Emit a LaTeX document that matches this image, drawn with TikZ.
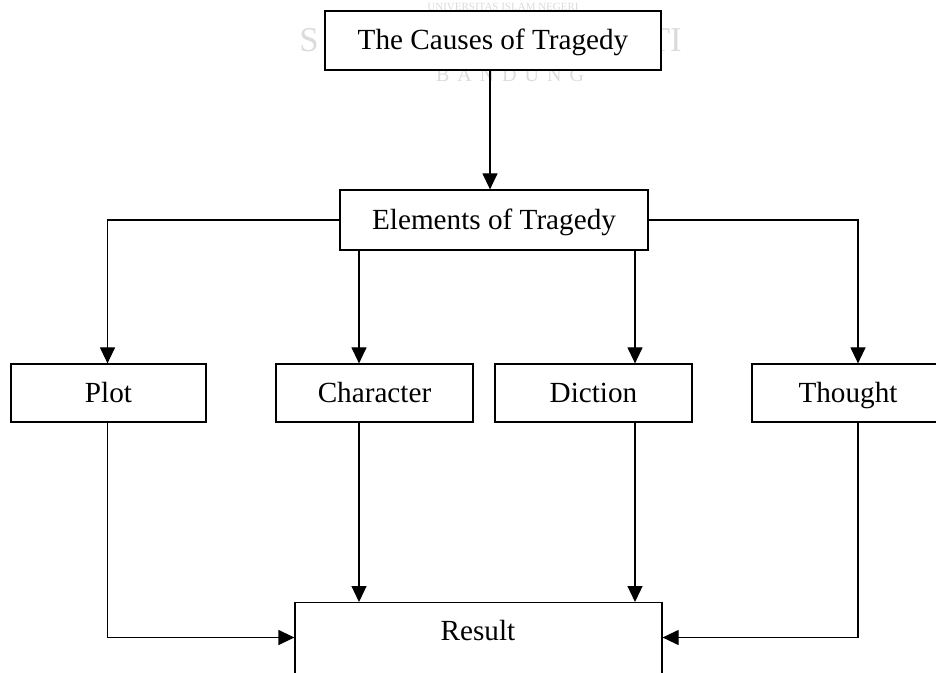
\documentclass[tikz,border=0pt]{standalone}
\usepackage{fontspec}
\setmainfont{Liberation Serif}
\usetikzlibrary{arrows.meta}
\tikzset{
  box/.style={draw, line width=0.6pt, rectangle, inner sep=0pt, text height=10pt, text depth=0.6pt, font=\fontsize{14.6}{16}\selectfont},
  arr/.style={line width=0.6pt, -{Triangle[length=8pt,width=7.5pt]}},
  wm/.style={text=black!14, inner sep=0pt}
}
\begin{document}
\begin{tikzpicture}[x=0.5pt,y=-0.5pt]
\useasboundingbox (0,0) rectangle (936,673);
\clip (0,0) rectangle (936,673);
% faint watermark (only its visible parts)
\node[wm, font=\fontsize{5.5}{6}\selectfont] (wm1) at (503,7) {UNIVERSITAS ISLAM NEGERI};
\node[wm, font=\fontsize{17.4}{18}\selectfont, anchor=west] (wm2) at (299,40) {S};
\node[wm, font=\fontsize{17.4}{18}\selectfont, anchor=east] (wm3) at (682,40) {TI};
\node[wm, font=\fontsize{10}{11}\selectfont\addfontfeatures{LetterSpace=40}] (wm4) at (510,75) {BANDUNG};
% nodes
\node[box, fill=white, minimum width=168pt, minimum height=29.5pt] (top) at (493,40.5) {The Causes of Tragedy};
\node[box, minimum width=154pt, minimum height=30pt] (elem) at (494,220) {Elements of Tragedy};
\node[box, minimum width=97.5pt, minimum height=29pt] (plot) at (108.5,393) {Plot};
\node[box, minimum width=98.5pt, minimum height=29pt] (char) at (374.5,393) {Character};
\node[box, minimum width=98.5pt, minimum height=29pt] (dict) at (593.5,393) {Diction};
\node[box, minimum width=96pt, minimum height=29pt] (thou) at (848,393) {Thought};
\node[box, minimum width=183.5pt, minimum height=50pt, anchor=north] (res) at (478.5,602) {};
\node[font=\fontsize{14.6}{16}\selectfont, inner sep=0pt] (restext) at (478,631) {Result};
% connector x positions
\coordinate (xa) at (490,0);
\coordinate (xp) at (107.5,0);
\coordinate (xc) at (359,0);
\coordinate (xd) at (635,0);
\coordinate (xt) at (858,0);
\coordinate (yr) at (0,637.5);
% connectors
\draw[arr] (top.south -| xa) -- (elem.north -| xa);
\draw[arr] (elem.west) -- (elem.west -| xp) -- (plot.north -| xp);
\draw[arr] (elem.east) -- (elem.east -| xt) -- (thou.north -| xt);
\draw[arr] (elem.south -| xc) -- (char.north -| xc);
\draw[arr] (elem.south -| xd) -- (dict.north -| xd);
\draw[arr] (char.south -| xc) -- (res.north -| xc);
\draw[arr] (dict.south -| xd) -- (res.north -| xd);
\draw[arr] (plot.south -| xp) -- (xp |- yr) -- (res.west |- yr);
\draw[arr] (thou.south -| xt) -- (xt |- yr) -- (res.east |- yr);
\end{tikzpicture}
\end{document}
